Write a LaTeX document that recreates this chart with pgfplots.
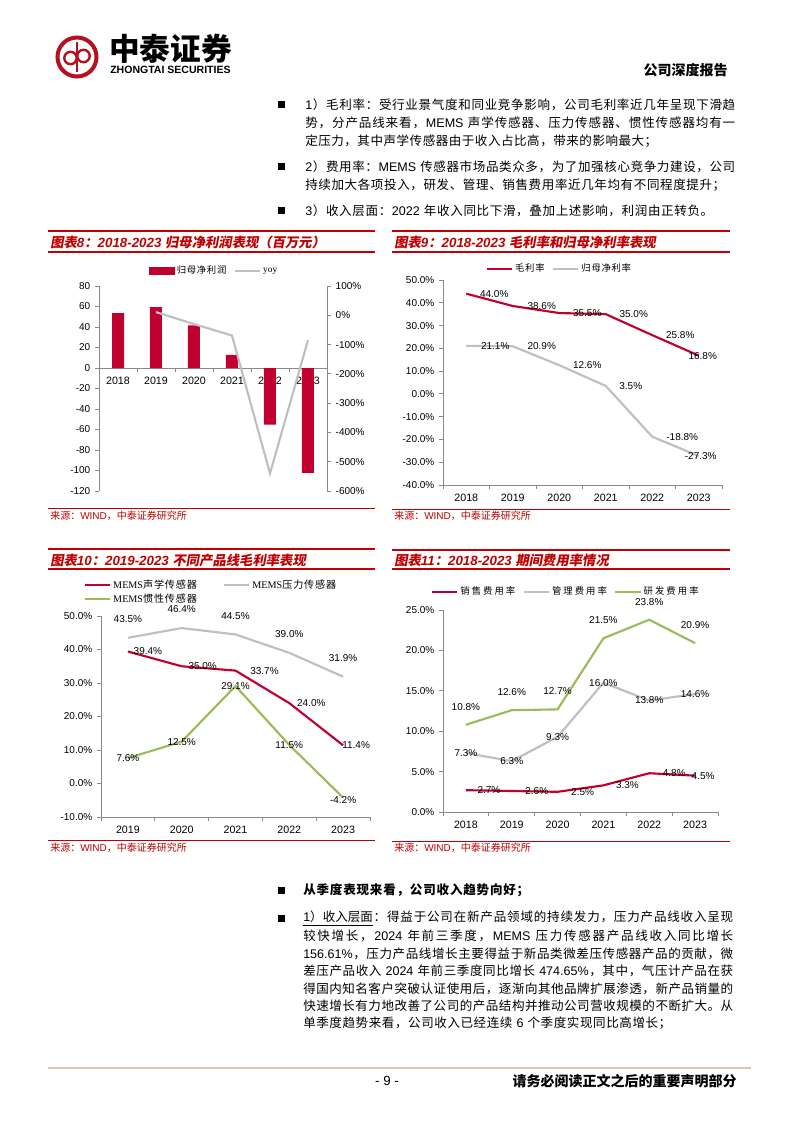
\documentclass[border=0pt]{standalone}
\usepackage{pgfplots}
\pgfplotsset{compat=1.18}
\usepackage{fontspec}
\setmainfont{Noto Sans CJK SC}
\newfontfamily\latf{Liberation Sans}
\newfontfamily\serf{Liberation Serif}
\newfontfamily\cjkti{Noto Sans CJK SC}[FakeSlant=0.18]
\newfontfamily\cjkleg{Noto Sans CJK SC}[LetterSpace=8]
\newfontfamily\cjklegw{Noto Sans CJK SC}[LetterSpace=22]
\newcommand\lat[1]{{\latf #1}}
\definecolor{zred}{HTML}{C00000}
\definecolor{dred}{HTML}{C0002F}
\definecolor{lgray}{HTML}{BFBFBF}
\definecolor{lgreen}{HTML}{9BBB59}
\definecolor{axgray}{HTML}{898989}
\definecolor{tanline}{HTML}{E2C2A4}
\definecolor{logored}{HTML}{B3121E}
\def\jlend{\jlend}
\def\jlfirst#1{#1\jlrest}
\def\jlrest#1{\def\jltmp{#1}\ifx\jltmp\jlend\else\hfil#1\expandafter\jlrest\fi}
\newcommand\jl[2][322.5pt]{\makebox[#1][s]{\jlfirst#2\jlend}}
\newcommand\bodyf{\fontsize{9.4}{11}\selectfont}
\pgfplotsset{
  zaxis/.style={scale only axis, anchor=south west, clip=false,
    axis line style={axgray, line width=0.6pt},
    tick style={axgray, line width=0.6pt},
    tick align=outside, major tick length=3pt,
    hide obscured x ticks=false, hide obscured y ticks=false,
    x tick label as interval,
    xticklabel style={font=\latf\fontsize{8}{9}\selectfont, text=black},
    yticklabel style={font=\latf\fontsize{7.5}{9}\selectfont, text=black},
    /pgf/number format/assume math mode=true,
    legend style={draw=none, fill=none, inner sep=0pt, font=\cjkleg\fontsize{7}{8}\selectfont,
      nodes={inner sep=1.5pt}, /tikz/every even column/.append style={column sep=4pt}},
    legend image code/.code={\draw[##1, line width=1.6pt] (0pt,0pt) -- (19pt,0pt);},
  },
  dlab/.style={nodes near coords={\pgfmathprintnumber[fixed,fixed zerofill,precision=1]{\pgfplotspointmeta}\%},
    visualization depends on={\thisrow{dx}\as\dx},
    visualization depends on={\thisrow{dy}\as\dy},
    every node near coord/.append style={anchor=center, inner sep=0pt,
      font=\latf\fontsize{7.5}{9}\selectfont, text=black, xshift=\dx*0.75pt, yshift=\dy*0.75pt}},
}
\begin{document}
\begin{tikzpicture}
\begin{scope}[x=0.75pt,y=-0.75pt]
\useasboundingbox (0,0) rectangle (794,1123);
\fill[white] (0,0) rectangle (794,1123);
% header
\draw[logored, line width=3pt] (77,57) circle (19.5);
\draw[logored, line width=1.8pt] (70.5,58) circle (6.2) (83.5,56) circle (6.2);
\draw[logored, line width=1.8pt] (77,42) -- (77,72);
\node[anchor=west, inner sep=0pt, font=\fontsize{23}{26}\selectfont\bfseries] at (109,49) {中泰证券};
\node[anchor=west, inner sep=0pt, font=\latf\bfseries\fontsize{7.9}{9}\selectfont] at (110,70) {ZHONGTAI SECURITIES};
\node[anchor=east, inner sep=0pt, font=\fontsize{10.5}{12}\selectfont\bfseries] at (728,70) {公司深度报告};
% top text
\foreach \yy in {105,167,211,890,918.5} {\fill (277.5,\yy-3.5) rectangle ++(7,7);}
\begin{scope}[every node/.style={anchor=west, inner sep=0pt, font=\bodyf}]
\node at (305,105) {\jl{{\lat{1}}）毛利率：受行业景气度和同业竞争影响，公司毛利率近几年呈现下滑趋}};
\node at (305,123) {\jl{势，分产品线来看，{\lat{MEMS }}声学传感器、压力传感器、惯性传感器均有一}};
\node at (305,141) {\jl[264pt]{定压力，其中声学传感器由于收入占比高，带来的影响最大；}};
\node at (305,167) {\jl{{\lat{2}}）费用率：{\lat{MEMS }}传感器市场品类众多，为了加强核心竞争力建设，公司}};
\node at (305,185) {\jl[315pt]{持续加大各项投入，研发、管理、销售费用率近几年均有不同程度提升；}};
\node at (305,211) {\jl[306pt]{{\lat{3}}）收入层面：{\lat{2022 }}年收入同比下滑，叠加上述影响，利润由正转负。}};
% bottom text
\node[font=\bodyf\bfseries] at (303,890) {\jl[169.5pt]{从季度表现来看，公司收入趋势向好；}};
\node at (303,918.5) {\jl{{\underline{\lat{1}）收入层面}}：得益于公司在新产品领域的持续发力，压力产品线收入呈现}};
\node at (303,936) {\jl{较快增长，{\lat{2024 }}年前三季度，{\lat{MEMS }}压力传感器产品线收入同比增长}};
\node at (303,953.5) {\jl{{\lat{156.61\%}}，压力产品线增长主要得益于新品类微差压传感器产品的贡献，微}};
\node at (303,971) {\jl{差压产品收入{\lat{ 2024 }}年前三季度同比增长{\lat{ 474.65\%}}，其中，气压计产品在获}};
\node at (303,988.5) {\jl{得国内知名客户突破认证使用后，逐渐向其他品牌扩展渗透，新产品销量的}};
\node at (303,1006) {\jl{快速增长有力地改善了公司的产品结构并推动公司营收规模的不断扩大。从}};
\node at (303,1023.5) {\jl[276pt]{单季度趋势来看，公司收入已经连续{\lat{ 6 }}个季度实现同比高增长；}};
\end{scope}
% footer
\draw[tanline, line width=2.2pt] (48,1068) -- (751,1068);
\node[inner sep=0pt, font=\latf\fontsize{10}{12}\selectfont] at (387,1081) {- 9 -};
\node[anchor=east, inner sep=0pt, font=\fontsize{10.5}{12}\selectfont\bfseries] at (737,1081) {请务必阅读正文之后的重要声明部分};
% chart frames
\foreach \xa/\xb/\ya/\yb/\yc/\yd in {48/375/231/252/508/516, 392/730/231/252/509/516, 48/375/549/569/840/848, 392/730/550/569/841/848} {
  \draw[zred, line width=1.3pt] (\xa,\ya) -- (\xb,\ya);
  \draw[zred, line width=0.9pt] (\xa,\yb) -- (\xb,\yb);
  \draw[zred, line width=0.6pt] (\xa,\yc) -- (\xb,\yc);
  \node[anchor=west, text=zred, inner sep=0pt, font=\fontsize{7.5}{9}\selectfont] at (\xa+2,\yd) {来源：{\lat{WIND}}，中泰证券研究所};
}
\begin{scope}[every node/.style={anchor=west, inner sep=0pt, text=zred, font=\fontsize{10}{12}\selectfont}]
\node at (50,242) {{\cjkti\bfseries 图表}{\latf\bfseries\itshape 8}{\cjkti\bfseries ：}{\latf\bfseries\itshape 2018-2023 }{\cjkti\bfseries 归母净利润表现（百万元）}};
\node at (394,242) {{\cjkti\bfseries 图表}{\latf\bfseries\itshape 9}{\cjkti\bfseries ：}{\latf\bfseries\itshape 2018-2023 }{\cjkti\bfseries 毛利率和归母净利率表现}};
\node at (50,560) {{\cjkti\bfseries 图表}{\latf\bfseries\itshape 10}{\cjkti\bfseries ：}{\latf\bfseries\itshape 2019-2023 }{\cjkti\bfseries 不同产品线毛利率表现}};
\node at (394,560) {{\cjkti\bfseries 图表}{\latf\bfseries\itshape 11}{\cjkti\bfseries ：}{\latf\bfseries\itshape 2018-2023 }{\cjkti\bfseries 期间费用率情况}};
\end{scope}
\coordinate (P8) at (99,491);
\coordinate (P9) at (443,485);
\coordinate (P10) at (101,817);
\coordinate (P11) at (443,812);
\end{scope}

% ---------- Chart 8 ----------
\begin{axis}[zaxis, at={(P8)}, width=171pt, height=153.75pt,
  xmin=-0.5, xmax=5.5, ymin=-120, ymax=80,
  axis y line*=left, axis x line*=middle,
  xtick={-0.5,0.5,...,5.5}, xticklabels={2018,2019,2020,2021,2022,2023},
  ytick={-120,-100,...,80}, yticklabels={-120,-100,-80,-60,-40,-20,0,20,40,60,80},
  legend columns=2, legend style={at={(0.22,1.073)}, anchor=west}]
\addplot[ybar, bar width=9pt, fill=dred, draw=none,
  legend image code/.code={\fill[dred] (0pt,-3pt) rectangle (19pt,3pt);}]
  coordinates {(0,53.5) (1,59.5) (2,41.6) (3,12.7) (4,-55.3) (5,-102.4)};
\addlegendentry{归母净利润}
\addlegendimage{lgray}
\addlegendentry{\serf yoy}
\end{axis}
\begin{axis}[zaxis, at={(P8)}, width=171pt, height=153.75pt,
  xmin=-0.5, xmax=5.5, ymin=-600, ymax=100,
  axis y line*=right, axis x line=none,
  ytick={-600,-500,...,100}, yticklabels={-600\%,-500\%,-400\%,-300\%,-200\%,-100\%,0\%,100\%}]
\addplot[lgray, line width=1.6pt] coordinates {(1,11) (2,-30) (3,-69) (4,-540) (5,-85)};
\end{axis}

% ---------- Chart 9 ----------
\begin{axis}[zaxis, dlab, at={(P9)}, width=209.25pt, height=153.75pt,
  xmin=-0.5, xmax=5.5, ymin=-40, ymax=50,
  axis y line*=left, axis x line*=bottom,
  xtick={-0.5,0.5,...,5.5}, xticklabels={2018,2019,2020,2021,2022,2023},
  ytick={-40,-30,...,50}, yticklabels={-40.0\%,-30.0\%,-20.0\%,-10.0\%,0.0\%,10.0\%,20.0\%,30.0\%,40.0\%,50.0\%},
  legend columns=2, legend style={at={(0.152,1.054)}, anchor=west}]
\addplot[dred, line width=1.6pt] table {
x y dx dy
0 44.0 28 0
1 38.6 29 0
2 35.5 28 0
3 35.0 28 0
4 25.8 28 0
5 16.8 4 0
};
\addlegendentry{毛利率}
\addplot[lgray, line width=1.6pt] table {
x y dx dy
0 21.1 29 0
1 20.9 29 0
2 12.6 28 0
3 3.5 25 0
4 -18.8 30 0
5 -27.3 2 0
};
\addlegendentry{归母净利率}
\end{axis}

% ---------- Chart 10 ----------
\begin{axis}[zaxis, dlab, at={(P10)}, width=201.75pt, height=150.75pt,
  xmin=-0.5, xmax=4.5, ymin=-10, ymax=50,
  axis y line*=left, axis x line*=bottom,
  xtick={-0.5,0.5,...,4.5}, xticklabels={2019,2020,2021,2022,2023},
  ytick={-10,0,...,50}, yticklabels={-10.0\%,0.0\%,10.0\%,20.0\%,30.0\%,40.0\%,50.0\%},
  legend columns=2, legend style={at={(-0.065,1.119)}, anchor=west,
    font=\cjkleg\fontsize{7.6}{8.6}\selectfont,
    /tikz/every even column/.append style={column sep=18pt}}]
\addplot[dred, line width=1.6pt] table {
x y dx dy
0 39.4 20 0
1 35.0 21 0
2 33.7 29 0
3 24.0 22 0
4 11.4 13 0
};
\addlegendentry{{\serf MEMS}声学传感器}
\addplot[lgray, line width=1.6pt] table {
x y dx dy
0 43.5 0 19
1 46.4 0 19
2 44.5 0 18
3 39.0 0 19
4 31.9 0 19
};
\addlegendentry{{\serf MEMS}压力传感器}
\addplot[lgreen, line width=1.6pt] table {
x y dx dy
0 7.6 0 0
1 12.5 0 0
2 29.1 0 0
3 11.5 0 0
4 -4.2 0 -2
};
\addlegendentry{{\serf MEMS}惯性传感器}
\end{axis}

% ---------- Chart 11 ----------
\begin{axis}[zaxis, dlab, at={(P11)}, width=206.25pt, height=151.5pt,
  xmin=-0.5, xmax=5.5, ymin=0, ymax=25,
  axis y line*=left, axis x line*=bottom,
  xtick={-0.5,0.5,...,5.5}, xticklabels={2018,2019,2020,2021,2022,2023},
  ytick={0,5,...,25}, yticklabels={0.0\%,5.0\%,10.0\%,15.0\%,20.0\%,25.0\%},
  legend columns=3, legend style={at={(-0.045,1.089)}, anchor=west,
    font=\cjklegw\fontsize{7}{8}\selectfont}]
\addplot[dred, line width=1.6pt] table {
x y dx dy
0 2.7 23 0
1 2.6 25 0
2 2.5 25 0
3 3.3 24 0
4 4.8 25 0
5 4.5 8 0
};
\addlegendentry{销售费用率}
\addplot[lgray, line width=1.6pt] table {
x y dx dy
0 7.3 0 0
1 6.3 0 0
2 9.3 0 0
3 16.0 0 0
4 13.8 0 0
5 14.6 0 0
};
\addlegendentry{管理费用率}
\addplot[lgreen, line width=1.6pt] table {
x y dx dy
0 10.8 0 18
1 12.6 0 18
2 12.7 0 18
3 21.5 0 18
4 23.8 0 18
5 20.9 0 18
};
\addlegendentry{研发费用率}
\end{axis}
\end{tikzpicture}
\end{document}
